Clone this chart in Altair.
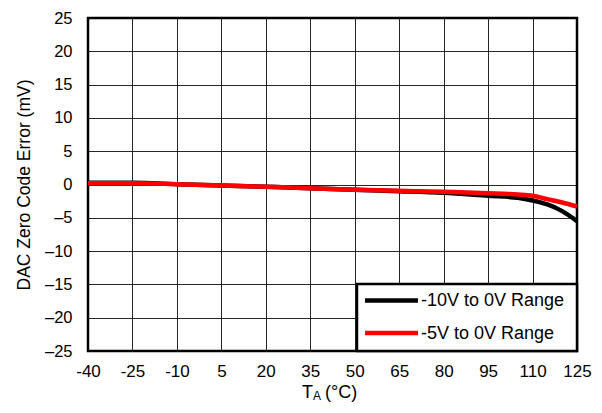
import altair as alt
import pandas as pd

temps = [-40, -25, -10, 5, 20, 35, 50, 65, 80, 95, 105, 110, 115, 120, 125]
range_10v = [0.25, 0.25, 0.05, -0.15, -0.35, -0.55, -0.8, -1.0, -1.25, -1.7, -2.0, -2.4, -3.0, -4.0, -5.5]
range_5v = [0.2, 0.2, 0.05, -0.15, -0.35, -0.55, -0.8, -0.95, -1.1, -1.3, -1.5, -1.7, -2.2, -2.7, -3.3]
series_names = ["-10V to 0V Range", "-5V to 0V Range"]
series_colors = ["#000000", "#ff0000"]
x_ticks = [-40, -25, -10, 5, 20, 35, 50, 65, 80, 95, 110, 125]
y_ticks = [-25, -20, -15, -10, -5, 0, 5, 10, 15, 20, 25]

FONT = "Liberation Sans"
W, H = 489, 333

df = pd.DataFrame({
    "T": temps * 2,
    "err": range_10v + range_5v,
    "series": [series_names[0]] * len(temps) + [series_names[1]] * len(temps),
})

xenc = alt.X("T:Q", scale=alt.Scale(domain=[-40, 125], nice=False, zero=False),
             axis=alt.Axis(values=x_ticks, title=None, grid=True, ticks=False, domain=False,
                           labelFontSize=17, labelFont=FONT, labelColor="black", labelPadding=12,
                           labelFlush=False, labelOverlap=False, labelBound=False,
                           labelExpr="replace(datum.label, '\u2212', '-')",
                           gridColor="black", gridWidth=1, gridOpacity=0.85))
yenc = alt.Y("err:Q", scale=alt.Scale(domain=[-25, 25], nice=False, zero=False),
             axis=alt.Axis(values=y_ticks, title="DAC Zero Code Error (mV)", grid=True, ticks=False,
                           domain=False, labelFontSize=16.5, labelFont=FONT, labelColor="black",
                           labelPadding=16, labelFlush=False, labelOverlap=False,
                           labelExpr="replace(datum.label, '\u2212', '\u2013')",
                           titleFont=FONT, titleFontSize=17.5, titleFontWeight="normal",
                           titleColor="black", titlePadding=11,
                           gridColor="black", gridWidth=1, gridOpacity=0.85))

base = alt.Chart(df)
black_line = base.transform_filter(alt.datum.series == series_names[0]).mark_line(
    color=series_colors[0], strokeWidth=4.5, interpolate="monotone").encode(x=xenc, y=yenc)
red_line = base.transform_filter(alt.datum.series == series_names[1]).mark_line(
    color=series_colors[1], strokeWidth=4.5, interpolate="monotone").encode(x=xenc, y=yenc)

one = alt.Data(values=[{"a": 1}])

legend_box = alt.Chart(one).mark_rect(fill="white", stroke="black", strokeWidth=2.5).encode(
    x=alt.value(269), x2=alt.value(489), y=alt.value(266), y2=alt.value(333))
leg_line1 = alt.Chart(one).mark_rule(color=series_colors[0], strokeWidth=4.5).encode(
    x=alt.value(277), x2=alt.value(330), y=alt.value(282.5))
leg_line2 = alt.Chart(one).mark_rule(color=series_colors[1], strokeWidth=4.5).encode(
    x=alt.value(277), x2=alt.value(330), y=alt.value(315))
leg_text1 = alt.Chart(alt.Data(values=[{"label": series_names[0]}])).mark_text(
    align="left", baseline="middle", font=FONT, fontSize=18, color="black").encode(
    x=alt.value(333), y=alt.value(283), text="label:N")
leg_text2 = alt.Chart(alt.Data(values=[{"label": series_names[1]}])).mark_text(
    align="left", baseline="middle", font=FONT, fontSize=18, color="black").encode(
    x=alt.value(333), y=alt.value(315.5), text="label:N")

t_main = alt.Chart(alt.Data(values=[{"t": "T"}])).mark_text(
    align="left", baseline="alphabetic", font=FONT, fontSize=18, color="black").encode(
    x=alt.value(214), y=alt.value(380), text="t:N")
t_sub = alt.Chart(alt.Data(values=[{"t": "A"}])).mark_text(
    align="left", baseline="alphabetic", font=FONT, fontSize=12, color="black").encode(
    x=alt.value(225), y=alt.value(382), text="t:N")
t_unit = alt.Chart(alt.Data(values=[{"t": "(°C)"}])).mark_text(
    align="left", baseline="alphabetic", font=FONT, fontSize=18, color="black").encode(
    x=alt.value(237), y=alt.value(380), text="t:N")

chart = alt.layer(
    black_line, red_line, legend_box, leg_line1, leg_line2, leg_text1, leg_text2,
    t_main, t_sub, t_unit
).properties(
    width=W, height=H,
    autosize=alt.AutoSizeParams(type="none"),
    padding={"left": 80, "top": 10, "right": 17, "bottom": 54},
    background="white",
).configure_view(stroke="black", strokeWidth=2.5)

chart.save("out.html", embed_options={"renderer": "svg", "actions": False})
